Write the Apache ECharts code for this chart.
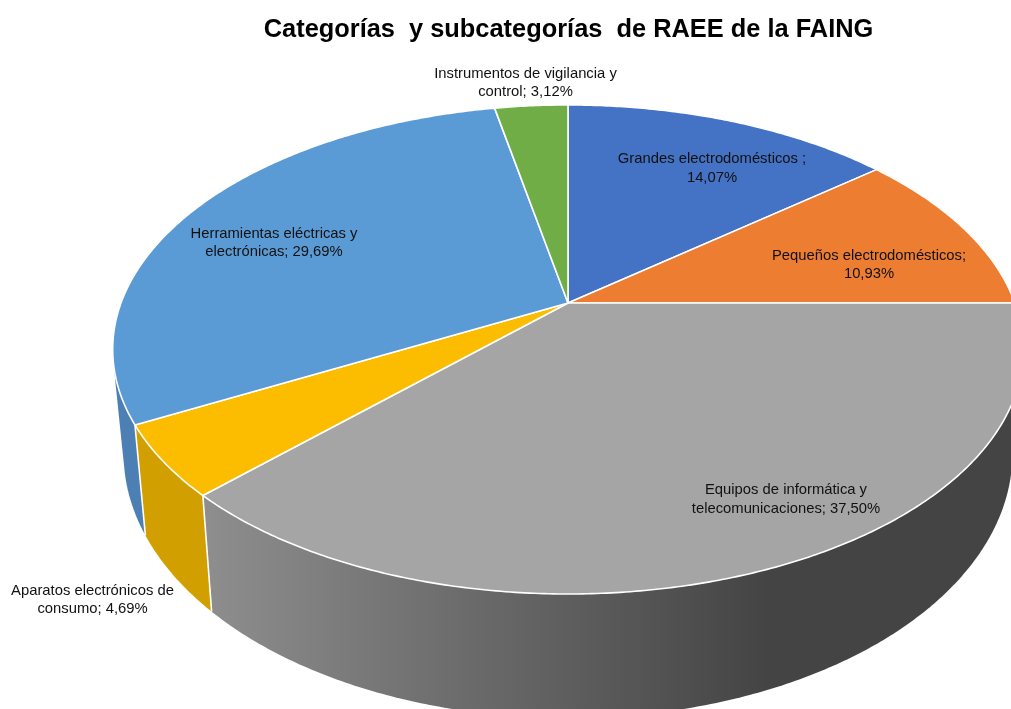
<!DOCTYPE html>
<html><head><meta charset="utf-8">
<style>html,body{margin:0;padding:0;background:#fff;overflow:hidden}#c{width:1011px;height:709px}</style>
<script src="https://cdn.jsdelivr.net/npm/echarts@6/dist/echarts.min.js"></script>
</head><body><div id="c"></div>
<script>
const titleText = 'Categorías  y subcategorías  de RAEE de la FAING';
const categories = ['Grandes electrodomésticos','Pequeños electrodomésticos','Equipos de informática y telecomunicaciones','Aparatos electrónicos de consumo','Herramientas eléctricas y electrónicas','Instrumentos de vigilancia y control'];
const shares = [14.07, 10.93, 37.50, 4.69, 29.69, 3.12];
const labelLines = [
  ['Grandes electrodomésticos ;','14,07%'],
  ['Pequeños electrodomésticos;','10,93%'],
  ['Equipos de informática y','telecomunicaciones; 37,50%'],
  ['Aparatos electrónicos de','consumo; 4,69%'],
  ['Herramientas eléctricas y','electrónicas; 29,69%'],
  ['Instrumentos de vigilancia y','control; 3,12%']
];
const labelCentres = [[712,168.5],[869,265],[786,499.5],[92.5,600],[274,243],[525.5,83]];
const topColours = ['#4472c4','#ed7d31','#a5a5a5','#fcbc00','#5b9bd5','#70ad47'];
const wallColours = ['#3a62a8','#cc6a28',null,'#d1a000','#4c80b4','#5f933c'];

const view = {cx:568, cy:303, rx:447, ry:235.7, tilt:0.19, depth:100.5, shrink:0.976};
const total = shares.reduce((a,b)=>a+b,0);

function rim(theta){
  const w = 1 + view.tilt*Math.cos(theta);
  return [view.cx + view.rx*Math.sin(theta)/w, view.cy - view.ry*Math.cos(theta)/w];
}
function rimLow(theta){
  const p = rim(theta), w = 1 + view.tilt*Math.cos(theta);
  return [view.cx + (p[0]-view.cx)*view.shrink, p[1] + view.depth/w];
}
function arc(fn,a,b){
  const n = Math.max(2,Math.ceil(Math.abs(b-a)/(Math.PI/360))), out=[];
  for(let i=0;i<=n;i++) out.push(fn(a+(b-a)*i/n));
  return out;
}
function hull(pts){
  const p = pts.slice().sort((u,v)=>u[0]-v[0]||u[1]-v[1]);
  const cross=(o,u,v)=>(u[0]-o[0])*(v[1]-o[1])-(u[1]-o[1])*(v[0]-o[0]);
  const half=list=>{const h=[];for(const q of list){while(h.length>1&&cross(h[h.length-2],h[h.length-1],q)<=0)h.pop();h.push(q);}h.pop();return h;};
  return half(p).concat(half(p.slice().reverse()));
}
function renderSlice(params, api){
  const i = params.dataIndex;
  let before = 0;
  for(let k=0;k<i;k++) before += shares[k];
  const a = before/total*2*Math.PI, b = (before+api.value(0))/total*2*Math.PI;
  const upper = arc(rim,a,b), lower = arc(rimLow,a,b);
  const wallFill = wallColours[i] || new echarts.graphic.LinearGradient(205,0,770,0,[
    {offset:0,color:'#8e8e8e'},{offset:0.45,color:'#6c6c6c'},{offset:1,color:'#444444'}],true);
  const wallZ = 1 - Math.cos((a+b)/2);
  const children = [
    {type:'polygon',z2:wallZ,shape:{points:hull(upper.concat(lower))},style:{fill:wallFill}},
    {type:'line',z2:3,shape:{x1:rim(a)[0],y1:rim(a)[1],x2:rimLow(a)[0],y2:rimLow(a)[1]},style:{stroke:'#fff',lineWidth:1.6,fill:null}},
    {type:'polygon',z2:4,shape:{points:[[view.cx,view.cy]].concat(upper)},style:{fill:topColours[i],stroke:'#fff',lineWidth:1.6,lineJoin:'round'}},
    {type:'text',z2:5,style:{text:labelLines[i].join('\n'),x:labelCentres[i][0],y:labelCentres[i][1],align:'center',verticalAlign:'middle',
      fontFamily:'"Liberation Sans"',fontSize:14.8,lineHeight:18.5,fill:'#111'}}
  ];
  return {type:'group',children};
}
const chart = echarts.init(document.getElementById('c'),null,{renderer:'canvas'});
chart.setOption({
  animation:false,
  backgroundColor:'#fff',
  title:{text:titleText,left:563.5,top:12,textAlign:'center',textStyle:{fontFamily:'"Liberation Sans"',fontSize:25.4,fontWeight:'bold',color:'#000'}},
  series:[{type:'custom',coordinateSystem:'none',renderItem:renderSlice,silent:true,clip:false,
    data:shares.map((v,i)=>({name:categories[i],value:[v]}))}]
});
</script></body></html>
